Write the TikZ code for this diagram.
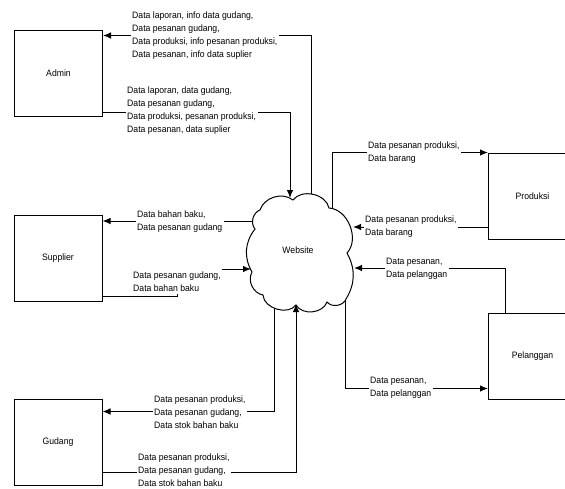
\documentclass[tikz,border=0pt]{standalone}
\usepackage{fontspec}
\setmainfont{Liberation Sans}[FakeStretch=0.93]
\usetikzlibrary{arrows.meta,calc}
\begin{document}
\begin{tikzpicture}[x=1pt,y=-1pt,
  font=\fontsize{9.3pt}{13pt}\selectfont,
  box/.style={draw,line width=1pt,minimum width=88pt,minimum height=86pt,inner sep=0pt},
  lbl/.style={fill=white,inner xsep=1.5pt,inner ysep=2.5pt,anchor=north west,align=left},
  flow/.style={line width=1pt},
  arr/.style={flow,-{Latex[length=8pt,width=6.5pt]}},
  cloudline/.style={line width=1pt,fill=white}
]
\useasboundingbox (0,0) rectangle (565,488);
\clip (0,0) rectangle (565,488);

% entities
\node[box] (admin) at (58.5,73) {Admin};
\node[box] (supplier) at (58,258) {Supplier};
\node[box] (gudang) at (58,442) {Gudang};
\node[box] (produksi) at (532.5,196) {Produksi};
\node[box] (pelanggan) at (532.5,356) {Pelanggan};

% points inside / on the cloud
\coordinate (wo1) at (311,230);
\coordinate (wo3) at (270,221);
\coordinate (wo5) at (274,280);
\coordinate (wo7) at (332,240);
\coordinate (wo10) at (345,280);
\coordinate (wA) at (290,198);
\coordinate (wS) at (251,269);
\coordinate (wG) at (296,304);
\coordinate (wP) at (353,227);
\coordinate (wL) at (354,268);

% flows leaving the website
\draw[arr] (wo1) |- ($(admin.north east)+(0,6)$);
\draw[arr] (wo3) -- (supplier.east |- wo3);
\draw[arr] (wo5) |- ($(gudang.north east)+(0,13)$);
\draw[arr] (wo7) |- (produksi.north west);
\draw[arr] (wo10) |- ($(pelanggan.south west)+(0,-11)$);

% cloud
\draw[cloudline] (260,210) to[bend left=55] (293,200) to[bend left=66] (329,208)
  to[bend left=65] (347,253) to[bend left=30] (346,299) to[bend left=60] (327,302)
  to[bend left=66] (296,305) to[bend left=70] (263,295) to[bend left=55] (252,272)
  to[bend left=34] (255,229) to[bend left=55] (260,210) -- cycle;
\node (web) at (298,250) {Website};

% flows entering the website
\draw[arr] ($(admin.south east)+(0,-4)$) -| (wA);
\draw[arr] ($(supplier.south east)+(0,-5)$) -| ($(wS)+(-74,0)$) -- (wS);
\draw[arr] ($(gudang.south east)+(0,-13)$) -| (wG);
\draw[arr] (produksi.west |- wP) -- (wP);
\draw[arr] ($(pelanggan.north west)+(17,0)$) |- (wL);

% labels
\node[lbl] (l1) at (130.5,8.8) {Data laporan, info data gudang,\\Data pesanan gudang,\\Data produksi, info pesanan produksi,\\Data pesanan, info data suplier};
\node[lbl] (l2) at (125.5,84.1) {Data laporan, data gudang,\\Data pesanan gudang,\\Data produksi, pesanan produksi,\\Data pesanan, data suplier};
\node[lbl] (l3) at (135.5,208.1) {Data bahan baku,\\Data pesanan gudang};
\node[lbl] (l4) at (131.5,269.1) {Data pesanan gudang,\\Data bahan baku};
\node[lbl] (l5) at (152.5,393.1) {Data pesanan produksi,\\Data pesanan gudang,\\Data stok bahan baku};
\node[lbl] (l6) at (136.5,451.1) {Data pesanan produksi,\\Data pesanan gudang,\\Data stok bahan baku};
\node[lbl] (l7) at (366.5,139.1) {Data pesanan produksi,\\Data barang};
\node[lbl] (l8) at (363.5,213.1) {Data pesanan produksi,\\Data barang};
\node[lbl] (l9) at (384.5,255.1) {Data pesanan,\\Data pelanggan};
\node[lbl] (l10) at (368.5,374.1) {Data pesanan,\\Data pelanggan};
\end{tikzpicture}
\end{document}
